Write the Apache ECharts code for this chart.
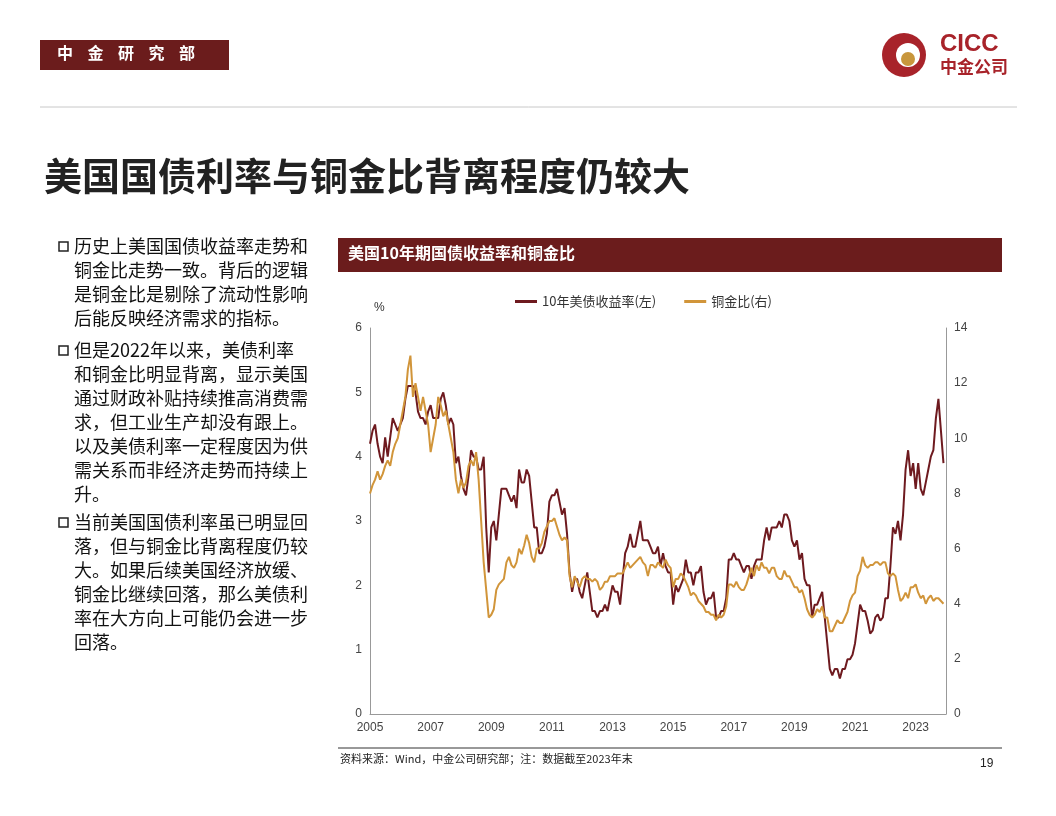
<!DOCTYPE html>
<html><head><meta charset="utf-8">
<script src="https://cdn.jsdelivr.net/npm/echarts@6/dist/echarts.min.js"></script>
<style>body{margin:0;background:#fff}#c{width:1056px;height:816px}</style>
</head><body><div id="c"></div>
<script>
// monthly values, Jan 2005 - Dec 2023
var yieldData = [
 4.2,4.4,4.5,4.2,4.0,3.9,4.3,4.0,4.3,4.6,4.5,4.4,
 4.5,4.6,4.9,5.1,5.1,5.1,5.0,4.7,4.6,4.6,4.5,4.7,
 4.8,4.6,4.6,4.6,4.9,5.0,4.8,4.5,4.6,4.5,3.9,4.0,
 3.7,3.5,3.4,3.7,4.1,4.0,4.0,3.8,3.8,4.0,2.9,2.2,
 2.9,3.0,2.7,3.1,3.5,3.5,3.5,3.4,3.3,3.4,3.2,3.8,
 3.6,3.6,3.8,3.7,3.3,2.9,2.9,2.5,2.5,2.6,2.8,3.3,
 3.4,3.4,3.5,3.3,3.1,3.2,2.8,2.2,1.9,2.1,2.1,1.9,
 1.8,2.0,2.2,1.9,1.6,1.6,1.5,1.6,1.6,1.7,1.6,1.8,
 2.0,1.9,1.9,1.7,2.1,2.5,2.6,2.8,2.6,2.6,2.8,3.0,
 2.7,2.7,2.7,2.6,2.5,2.5,2.6,2.3,2.5,2.3,2.2,2.2,
 1.7,2.0,1.9,2.0,2.1,2.4,2.2,2.2,2.0,2.2,2.2,2.3,
 1.9,1.7,1.8,1.8,1.9,1.5,1.5,1.6,1.6,1.8,2.4,2.4,
 2.5,2.4,2.4,2.3,2.2,2.3,2.3,2.1,2.3,2.4,2.4,2.4,
 2.7,2.9,2.7,2.9,2.9,2.9,3.0,2.9,3.1,3.1,3.0,2.7,
 2.6,2.7,2.4,2.5,2.1,2.0,2.0,1.5,1.7,1.7,1.8,1.9,
 1.5,1.1,0.7,0.6,0.7,0.7,0.55,0.7,0.7,0.85,0.85,0.92,
 1.1,1.4,1.7,1.6,1.6,1.45,1.25,1.3,1.5,1.55,1.45,1.5,
 1.8,1.8,2.3,2.9,2.8,3.0,2.7,3.1,3.8,4.1,3.7,3.9,
 3.5,3.9,3.5,3.4,3.6,3.8,4.0,4.1,4.6,4.9,4.4,3.9
];
var ratioData = [
 8.0,8.3,8.5,8.8,8.5,8.7,9.0,9.2,9.0,9.5,9.8,10.0,
 10.5,11.0,11.5,12.5,13.0,11.5,12.0,11.5,11.0,11.5,11.0,10.5,
 9.5,10.0,10.5,11.5,11.2,10.8,11.0,10.5,10.0,9.5,8.5,8.0,
 8.5,8.2,8.4,9.0,9.2,9.0,9.5,8.5,7.0,5.5,4.5,3.5,
 3.6,3.8,4.5,4.7,4.8,4.9,5.5,5.7,5.4,5.3,5.5,6.0,
 5.8,6.1,6.5,6.2,5.7,5.5,6.0,6.0,6.2,6.6,6.8,7.0,
 7.0,7.1,6.8,6.5,6.3,6.4,6.3,5.0,4.6,5.0,4.8,4.6,
 4.9,5.0,4.9,4.9,4.8,4.9,4.8,4.5,4.6,4.8,4.8,5.0,
 5.0,5.0,5.1,5.1,5.1,5.3,5.5,5.3,5.4,5.5,5.6,5.7,
 5.5,5.4,5.0,5.4,5.4,5.3,5.5,5.4,5.3,5.6,5.4,5.3,
 4.6,4.9,4.9,5.1,5.0,4.8,4.6,4.3,4.4,4.3,4.1,4.0,
 3.9,3.7,3.7,3.6,3.6,3.4,3.6,3.5,3.6,3.9,4.7,4.7,
 4.6,4.8,4.6,4.5,4.5,4.7,5.0,5.3,5.0,5.4,5.2,5.5,
 5.3,5.3,5.1,5.3,5.3,5.0,4.9,4.9,5.2,5.0,5.0,4.8,
 4.6,4.6,4.4,4.5,4.2,3.8,3.6,3.5,3.6,3.8,3.7,3.9,
 3.5,3.5,3.0,3.0,3.2,3.4,3.3,3.3,3.5,3.7,4.1,4.3,
 4.4,5.0,5.2,5.7,5.4,5.3,5.4,5.4,5.5,5.5,5.4,5.5,
 5.5,5.1,5.0,5.1,5.0,4.5,4.1,4.2,4.4,4.2,4.6,4.6,
 4.7,4.4,4.2,4.3,4.0,4.2,4.3,4.1,4.2,4.2,4.1,4.0
];
var startYear = 2005;
var seriesNames = ['10年美债收益率(左)', '铜金比(右)'];
var bullets = [
  '历史上美国国债收益率走势和\n铜金比走势一致。背后的逻辑\n是铜金比是剔除了流动性影响\n后能反映经济需求的指标。',
  '但是2022年以来，美债利率\n和铜金比明显背离，显示美国\n通过财政补贴持续推高消费需\n求，但工业生产却没有跟上。\n以及美债利率一定程度因为供\n需关系而非经济走势而持续上\n升。',
  '当前美国国债利率虽已明显回\n落，但与铜金比背离程度仍较\n大。如果后续美国经济放缓、\n铜金比继续回落，那么美债利\n率在大方向上可能仍会进一步\n回落。'
];

function toPairs(arr) {
    return arr.map(function (v, i) { return [startYear + i / 12, v]; });
}

var dark = '#6b1c1c';
var font = '"Noto Sans CJK SC", sans-serif';
var myChart = echarts.init(document.getElementById('c'));

var graphics = [
    {type: 'rect', shape: {x: 40, y: 40, width: 189, height: 30}, style: {fill: dark}},
    {type: 'text', left: 57, top: 45, style: {text: '中    金    研    究    部', fill: '#fff', font: 'bold 16px ' + font}},
    {type: 'circle', shape: {cx: 904, cy: 55, r: 22}, style: {fill: '#a8232a'}},
    {type: 'circle', shape: {cx: 908, cy: 55, r: 12}, style: {fill: '#fff'}},
    {type: 'circle', shape: {cx: 908, cy: 59, r: 7}, style: {fill: '#c8963c'}},
    {type: 'text', left: 940, top: 32, style: {text: 'CICC', fill: '#a8232a', font: 'bold 24px Arial'}},
    {type: 'text', left: 940, top: 58, style: {text: '中金公司', fill: '#a8232a', font: 'bold 17px ' + font}},
    {type: 'line', shape: {x1: 40, y1: 107, x2: 1017, y2: 107}, style: {stroke: '#c8c8c8', lineWidth: 1}},
    {type: 'text', left: 44, top: 157, style: {text: '美国国债利率与铜金比背离程度仍较大', fill: '#222', font: 'bold 38px ' + font}},
    {type: 'rect', shape: {x: 338, y: 238, width: 664, height: 34}, style: {fill: dark}},
    {type: 'text', left: 348, top: 245, style: {text: '美国10年期国债收益率和铜金比', fill: '#fff', font: 'bold 16px ' + font}},
    {type: 'line', shape: {x1: 338, y1: 748, x2: 1002, y2: 748}, style: {stroke: '#333', lineWidth: 1}},
    {type: 'text', left: 340, top: 753, style: {text: '资料来源：Wind，中金公司研究部；注：数据截至2023年末', fill: '#222', font: '11px ' + font}},
    {type: 'text', left: 980, top: 758, style: {text: '19', fill: '#222', font: '12px Arial'}},
    {type: 'text', left: 374, top: 302, style: {text: '%', fill: '#333', font: '12px Arial'}}
];
var tops = [234, 338, 510];
bullets.forEach(function (t, i) {
    graphics.push({type: 'rect', shape: {x: 59, y: tops[i] + 8, width: 9, height: 9}, style: {fill: '#fff', stroke: '#222', lineWidth: 1.5}});
    graphics.push({type: 'text', left: 74, top: tops[i], style: {text: t, fill: '#111', font: '18px ' + font, lineHeight: 24}});
});

myChart.setOption({
    animation: false,
    textStyle: {fontFamily: font},
    graphic: graphics,
    legend: {
        top: 290, left: 510,
        itemWidth: 22, itemHeight: 3, itemGap: 28,
        icon: 'rect',
        textStyle: {fontSize: 13, color: '#333'},
        data: seriesNames
    },
    grid: {left: 370, right: 110, top: 328, bottom: 102},
    xAxis: {
        type: 'value', min: 2005, max: 2024, interval: 2,
        axisLine: {lineStyle: {color: '#999'}},
        axisTick: {show: false},
        axisLabel: {color: '#444', fontSize: 12, fontFamily: 'Arial',
            formatter: function (v) { return v <= 2023 ? v : ''; }},
        splitLine: {show: false}
    },
    yAxis: [{
        type: 'value', min: 0, max: 6, interval: 1,
        axisLine: {show: true, lineStyle: {color: '#999'}},
        axisTick: {show: false},
        axisLabel: {color: '#444', fontSize: 12, fontFamily: 'Arial'},
        splitLine: {show: false}
    }, {
        type: 'value', min: 0, max: 14, interval: 2,
        axisLine: {show: true, lineStyle: {color: '#999'}},
        axisTick: {show: false},
        axisLabel: {color: '#444', fontSize: 12, fontFamily: 'Arial'},
        splitLine: {show: false}
    }],
    series: [{
        name: seriesNames[0], type: 'line', yAxisIndex: 0, showSymbol: false,
        lineStyle: {color: '#6e1a1f', width: 2}, itemStyle: {color: '#6e1a1f'},
        z: 2, data: toPairs(yieldData)
    }, {
        name: seriesNames[1], type: 'line', yAxisIndex: 1, showSymbol: false,
        lineStyle: {color: '#d1953a', width: 2}, itemStyle: {color: '#d1953a'},
        z: 3, data: toPairs(ratioData)
    }]
});
</script></body></html>
